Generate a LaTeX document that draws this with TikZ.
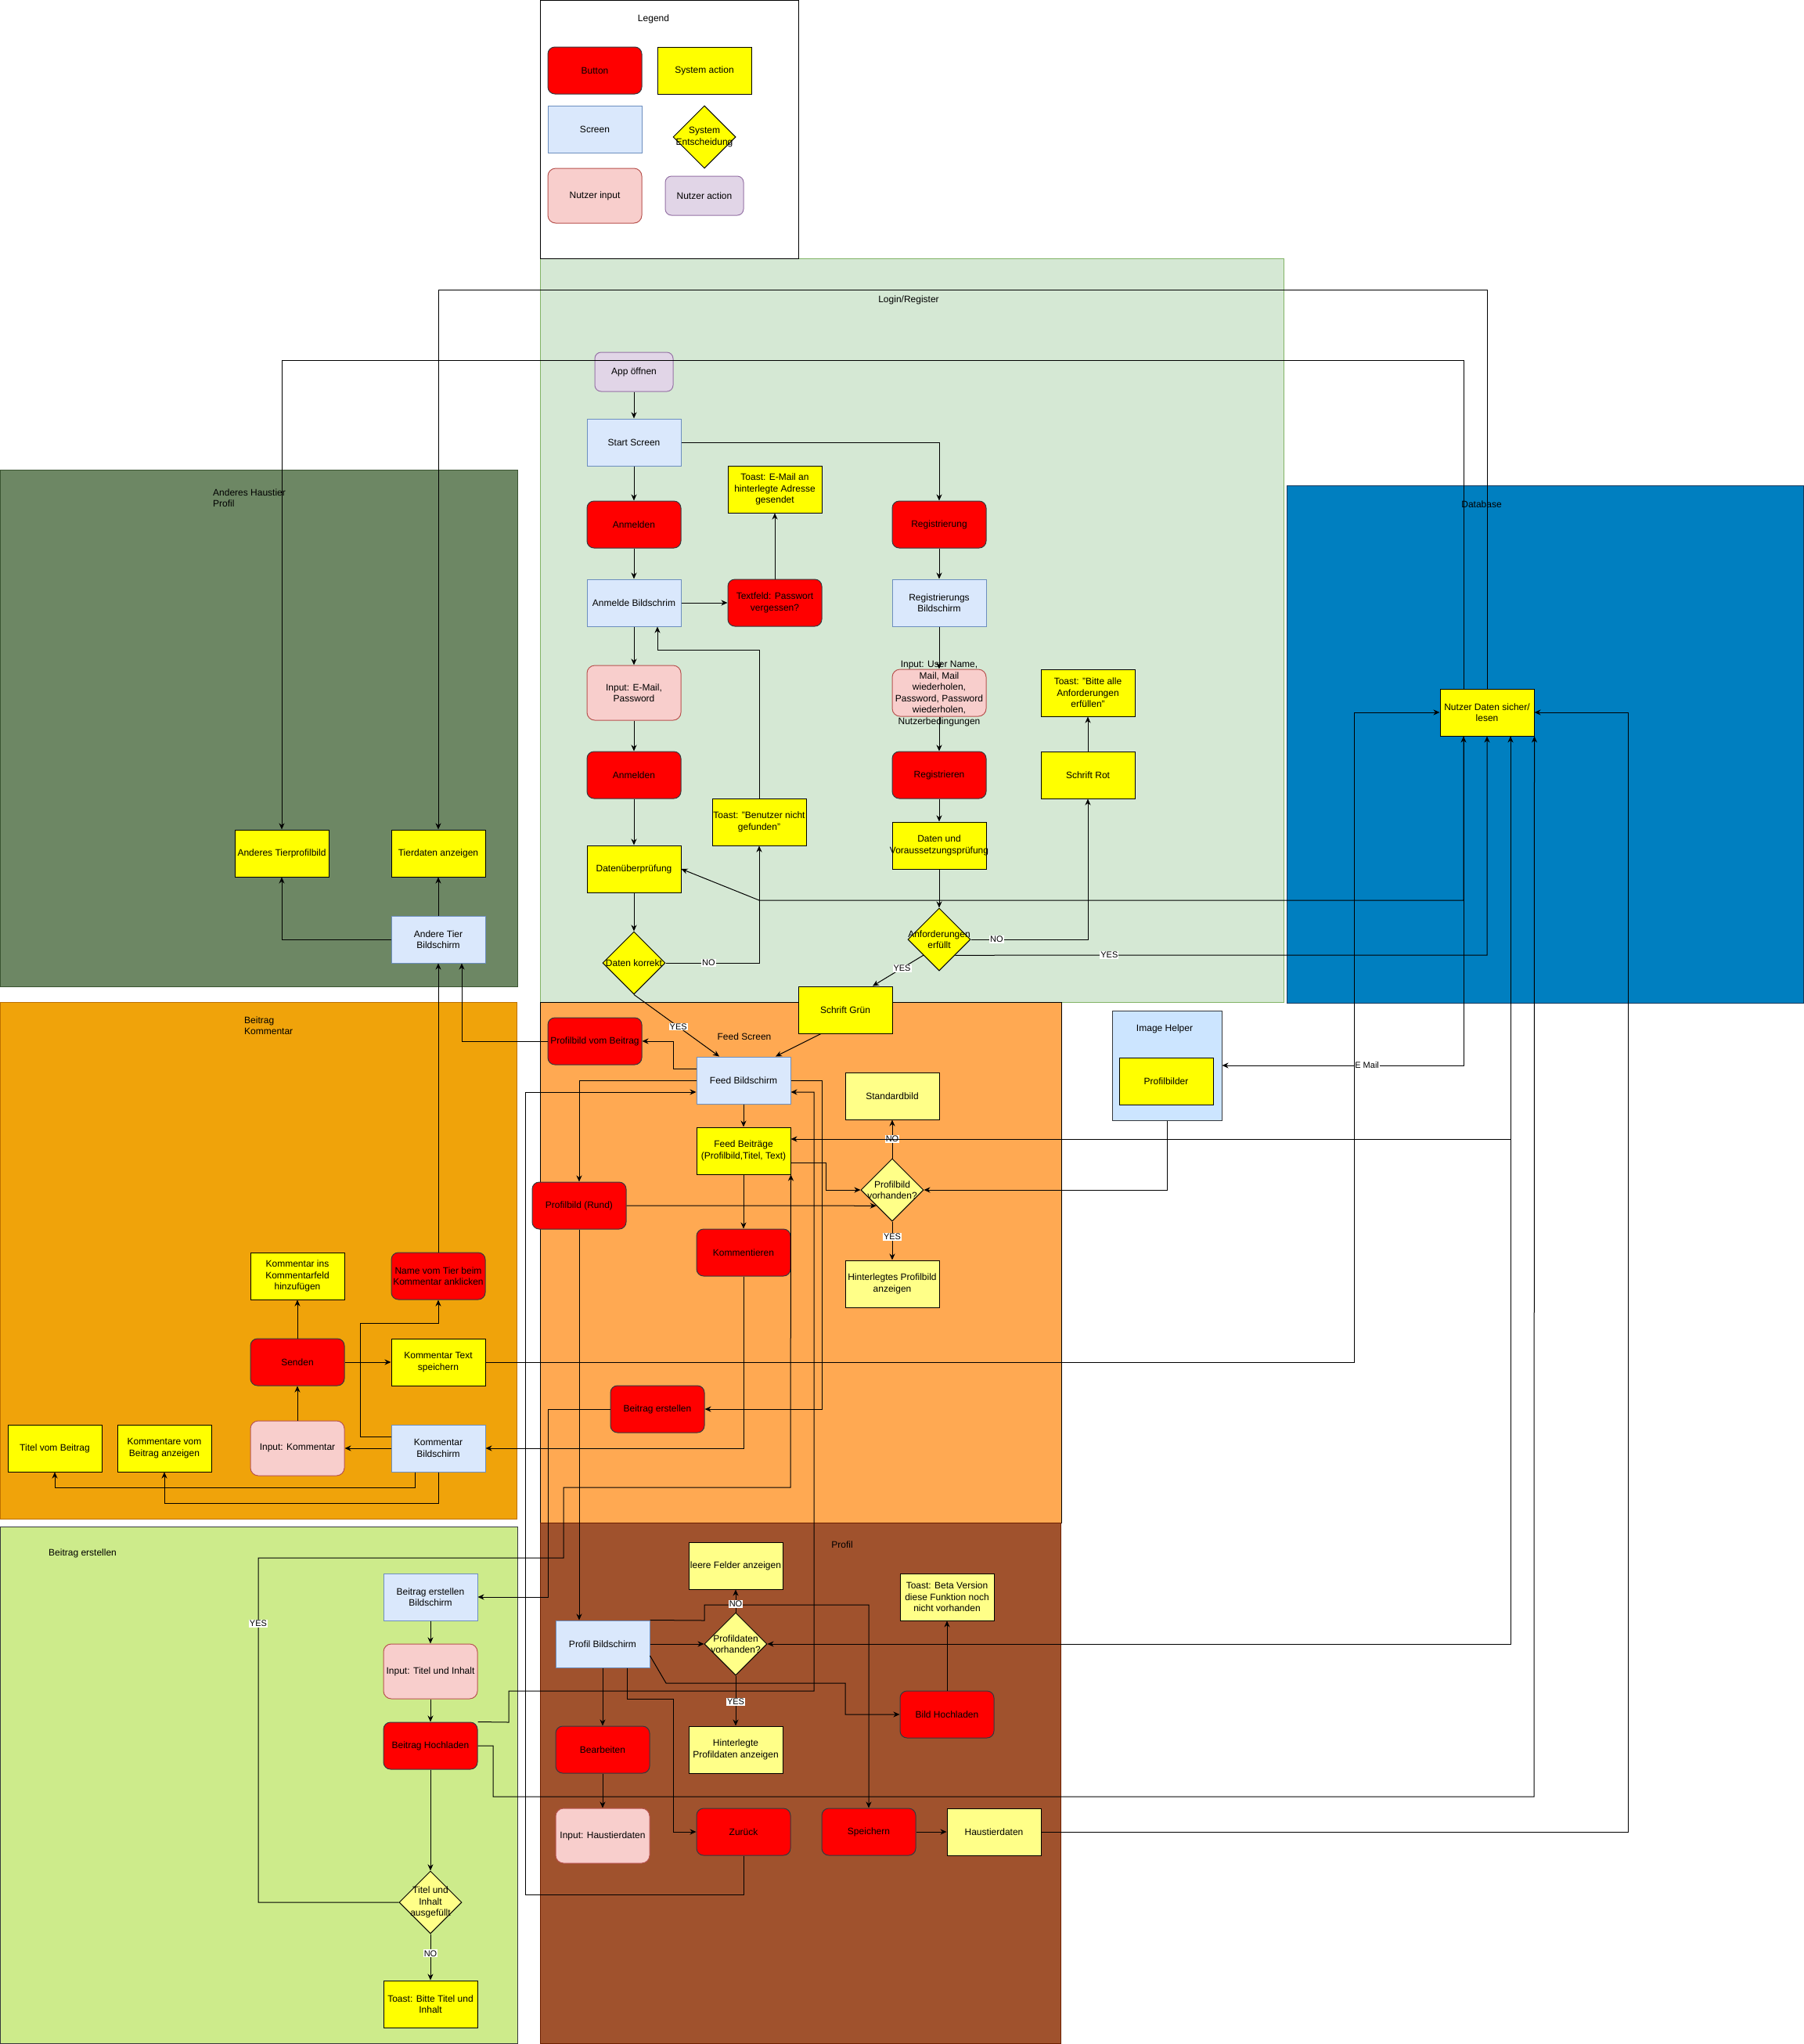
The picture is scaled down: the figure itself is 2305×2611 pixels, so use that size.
\documentclass[tikz,border=0pt]{standalone}
\usepackage{fontspec}
\setmainfont{Liberation Sans}
\usetikzlibrary{shapes.geometric,arrows.meta}
\definecolor{cRed}{HTML}{FF0000}
\definecolor{cBtnD}{HTML}{36393D}
\definecolor{cYel}{HTML}{FFFF00}
\definecolor{cLYel}{HTML}{FFFF88}
\definecolor{cScrF}{HTML}{DAE8FC}
\definecolor{cScrD}{HTML}{6C8EBF}
\definecolor{cInF}{HTML}{F8CECC}
\definecolor{cInD}{HTML}{B85450}
\definecolor{cActF}{HTML}{E1D5E7}
\definecolor{cActD}{HTML}{9673A6}
\definecolor{cLogF}{HTML}{D5E8D4}
\definecolor{cLogD}{HTML}{82B366}
\definecolor{cAndF}{HTML}{6D8764}
\definecolor{cAndD}{HTML}{3A5431}
\definecolor{cKomF}{HTML}{F0A30A}
\definecolor{cKomD}{HTML}{BD7000}
\definecolor{cFeedF}{HTML}{FFA952}
\definecolor{cProF}{HTML}{A0522D}
\definecolor{cProD}{HTML}{6D1F00}
\definecolor{cBeF}{HTML}{CDEB8B}
\definecolor{cBeD}{HTML}{36393D}
\definecolor{cDbF}{HTML}{007FC0}
\definecolor{cDbD}{HTML}{10375A}
\definecolor{cImgF}{HTML}{CCE5FF}
\definecolor{cImgD}{HTML}{36393D}
\tikzset{
 box/.style={draw, line width=1pt, align=center, inner sep=0pt, minimum width=120pt, minimum height=60pt, font=\fontsize{12}{14.5}\selectfont},
 btn/.style={box, fill=cRed, draw=cBtnD, rounded corners=9pt},
 sact/.style={box, fill=cYel, draw=black},
 lact/.style={box, fill=cLYel, draw=black},
 scr/.style={box, fill=cScrF, draw=cScrD},
 uin/.style={box, fill=cInF, draw=cInD, rounded corners=10pt, minimum height=70pt},
 uact/.style={box, fill=cActF, draw=cActD, rounded corners=8pt, minimum width=100pt, minimum height=50pt},
 dec/.style={diamond, draw=black, line width=1pt, fill=cYel, minimum width=80pt, minimum height=80pt, inner sep=0pt, aspect=1},
 ldec/.style={dec, fill=cLYel},
 txt/.style={align=center, inner sep=0pt, font=\fontsize{12}{14.5}\selectfont},
 conn/.style={line width=1pt, -{Stealth[length=8pt,width=7pt,inset=2.5pt]}},
 conntwo/.style={line width=1pt, {Stealth[length=8pt,width=7pt,inset=2.5pt]}-{Stealth[length=8pt,width=7pt,inset=2.5pt]}},
 lbl/.style={fill=white, inner sep=1pt, font=\fontsize{11}{13}\selectfont},
}
\begin{document}
\begin{tikzpicture}[x=1pt,y=-1pt]
\useasboundingbox (0,0) rectangle (2305,2611);
% containers
\path[draw=cLogD, fill=cLogF, line width=1pt] (690,330) rectangle (1640,1280);
\path[draw=black, fill=white, line width=1pt] (690,0.5) rectangle (1020,330);
\path[draw=cDbD, fill=cDbF, line width=1pt] (1644,620) rectangle (2304.5,1281);
\path[draw=cAndD, fill=cAndF, line width=1pt] (0.5,600) rectangle (661,1260);
\path[draw=cKomD, fill=cKomF, line width=1pt] (0.5,1280) rectangle (660,1940);
\path[draw=black, fill=cFeedF, line width=1pt] (690,1280) rectangle (1356,1945);
\path[draw=cProD, fill=cProF, line width=1pt] (690,1945) rectangle (1355,2610.5);
\path[draw=cBeD, fill=cBeF, line width=1pt] (0.5,1950) rectangle (661,2610.5);
\node[draw=cImgD, fill=cImgF, line width=1pt, minimum width=140pt, minimum height=140pt, inner sep=0pt] (imgHelper) at (1491,1361) {};

% titles
\node[txt] (legT) at (835,24) {Legend};
\node[txt] (logT) at (1161,383) {Login/Register};
\node[txt] (dbT) at (1893,644) {Database};
\node[txt, anchor=west, align=left] (andT) at (272,636) {Anderes Haustier\\Profil};
\node[txt, anchor=west, align=left] (komT) at (312,1310) {Beitrag\\Kommentar};
\node[txt] (feedT) at (951,1324) {Feed Screen};
\node[txt, anchor=west] (beT) at (62,1984) {Beitrag erstellen};
\node[txt] (proT) at (1076,1973) {Profil};
\node[txt] (imgT) at (1488,1314) {Image Helper};

% legend
\node[btn] (lgButton) at (760,90) {Button};
\node[sact] (lgSys) at (900,90) {System action};
\node[scr] (lgScreen) at (760,165) {Screen};
\node[dec] (lgDec) at (900,175) {};
\node[txt] (lgDecT) at (900,175) {System\\Entscheidung};
\node[uin] (lgInput) at (760,250) {Nutzer input};
\node[uact] (lgAction) at (900,250) {Nutzer action};

% login / register
\node[uact] (app) at (810,475) {App öffnen};
\node[scr] (start) at (810,565) {Start Screen};
\node[btn] (anm1) at (810,670) {Anmelden};
\node[sact] (toastMail) at (990,625) {Toast: E-Mail an\\hinterlegte Adresse\\gesendet};
\node[btn] (reg) at (1200,670) {Registrierung};
\node[scr] (anmBS) at (810,770) {Anmelde Bildschrim};
\node[btn] (pwv) at (990,770) {Textfeld: Passwort\\vergessen?};
\node[scr] (regBS) at (1200,770) {Registrierungs\\Bildschirm};
\node[uin] (inMail) at (810,885) {Input: E-Mail,\\Password};
\node[uin, minimum height=60pt] (inUser) at (1200,885) {};
\node[txt] (inUserT) at (1200,886) {Input: User Name,\\Mail, Mail\\wiederholen,\\Password, Password\\wiederholen,\\Nutzerbedingungen};
\node[sact] (toastBitte) at (1390,885) {Toast: "Bitte alle\\Anforderungen\\erfüllen"};
\node[btn] (anm2) at (810,990) {Anmelden};
\node[btn] (regBtn) at (1200,990) {Registrieren};
\node[sact] (schriftRot) at (1390,990) {Schrift Rot};
\node[sact] (toastBen) at (970,1050) {Toast: "Benutzer nicht\\gefunden"};
\node[sact] (datenV) at (1200,1080) {};
\node[txt] (datenVT) at (1200,1080) {Daten und\\Voraussetzungsprüfung};
\node[sact] (datenUe) at (810,1110) {Datenüberprüfung};
\node[dec] (anf) at (1200,1200) {};
\node[txt] (anfT) at (1200,1200) {Anforderungen\\erfüllt};
\node[dec] (korrekt) at (810,1230) {};
\node[txt] (korrektT) at (810,1230) {Daten korrekt};
\node[sact] (gruen) at (1080,1290) {Schrift Grün};

% database
\node[sact] (nutzer) at (1900,910) {Nutzer Daten sicher/\\lesen};

% anderes haustier
\node[sact] (tierbild) at (360,1090) {Anderes Tierprofilbild};
\node[sact] (tierdaten) at (560,1090) {Tierdaten anzeigen};
\node[scr] (andere) at (560,1200) {Andere Tier\\Bildschirm};

% feed
\node[btn] (pbBeitrag) at (760,1330) {Profilbild vom Beitrag};
\node[scr] (feedBS) at (950,1380) {Feed Bildschirm};
\node[lact] (standard) at (1140,1400) {Standardbild};
\node[sact] (feedB) at (950,1470) {Feed Beiträge\\(Profilbild,Titel, Text)};
\node[ldec] (pbv) at (1140,1520) {};
\node[txt] (pbvT) at (1140,1520) {Profilbild\\vorhanden?};
\node[btn] (pbRund) at (740,1540) {Profilbild (Rund)};
\node[btn] (komm) at (950,1600) {Kommentieren};
\node[lact] (hinterlegtPB) at (1140,1640) {Hinterlegtes Profilbild\\anzeigen};
\node[btn] (beitragBtn) at (840,1800) {Beitrag erstellen};

% image helper
\node[sact] (profilbilder) at (1490,1381) {Profilbilder};

% kommentar
\node[sact] (kommIns) at (380,1630) {Kommentar ins\\Kommentarfeld\\hinzufügen};
\node[btn] (nameTier) at (560,1630) {Name vom Tier beim\\Kommentar anklicken};
\node[btn] (senden) at (380,1740) {Senden};
\node[sact] (kommText) at (560,1740) {Kommentar Text\\speichern};
\node[sact] (titelBeitrag) at (70,1850) {Titel vom Beitrag};
\node[sact] (kommVom) at (210,1850) {Kommentare vom\\Beitrag anzeigen};
\node[uin] (inKomm) at (380,1850) {Input: Kommentar};
\node[scr] (kommBS) at (560,1850) {Kommentar\\Bildschirm};

% beitrag erstellen
\node[scr] (beBS) at (550,2040) {Beitrag erstellen\\Bildschirm};
\node[uin] (inTitel) at (550,2135) {Input: Titel und Inhalt};
\node[btn] (hochladen) at (550,2230) {Beitrag Hochladen};
\node[ldec] (tiDec) at (550,2430) {};
\node[txt] (tiDecT) at (550,2430) {Titel und\\Inhalt\\ausgefüllt};
\node[sact] (toastTitel) at (550,2560) {Toast: Bitte Titel und\\Inhalt};

% profil
\node[lact] (leere) at (940,2000) {leere Felder anzeigen};
\node[lact] (toastBeta) at (1210,2040) {Toast: Beta Version\\diese Funktion noch\\nicht vorhanden};
\node[scr] (profilBS) at (770,2100) {Profil Bildschirm};
\node[ldec] (pdv) at (940,2100) {};
\node[txt] (pdvT) at (940,2100) {Profildaten\\vorhanden?};
\node[btn] (bildHoch) at (1210,2190) {Bild Hochladen};
\node[btn] (bearbeiten) at (770,2235) {Bearbeiten};
\node[lact] (hinterlegtPD) at (940,2235) {Hinterlegte\\Profildaten anzeigen};
\node[uin] (inHaus) at (770,2345) {Input: Haustierdaten};
\node[btn] (zurueck) at (950,2340) {Zurück};
\node[btn] (speichern) at (1110,2340) {Speichern};
\node[lact] (haustier) at (1270,2340) {Haustierdaten};

% ---------- connectors ----------
\draw[conn] (app) -- (start);
\draw[conn] (start) -- (anm1);
\draw[conn] (start.east) -| (reg.north);
\draw[conn] (anm1) -- (anmBS);
\draw[conn] (anmBS.east) -- (pwv.west);
\draw[conn] (pwv.north) -- (toastMail.south);
\draw[conn] (reg) -- (regBS);
\draw[conn] (anmBS) -- (inMail);
\draw[conn] (inMail) -- (anm2);
\draw[conn] (anm2) -- (datenUe);
\draw[conn] (datenUe.south) -- (korrekt.north);
\draw[conn] (korrekt.east) -| node[lbl,pos=0.23]{NO} (toastBen.south);
\draw[conn] (toastBen.north) -- (970,830) -| ([xshift=30pt]anmBS.south);
\draw[conn] (korrekt.south) -- node[lbl,pos=0.52]{YES} ([xshift=-31pt]feedBS.north);
\draw[conn] (regBS.south) -- (inUser.north);
\draw[conn] (inUser.south) -- (regBtn.north);
\draw[conn] (regBtn) -- (datenV);
\draw[conn] (datenV.south) -- (anf.north);
\draw[conn] (anf.east) -| node[lbl,pos=0.11]{NO} (schriftRot.south);
\draw[conn] (schriftRot) -- (toastBitte);
\draw[conn] (anf.south east) -- node[lbl,pos=0.29]{YES} (1900,1220) -- (nutzer.south);
\draw[conn] (anf.south west) -- node[lbl,pos=0.42]{YES} ([xshift=35pt]gruen.north);
\draw[conn] ([xshift=-31pt]gruen.south) -- ([xshift=41pt]feedBS.north);
\draw[conntwo] ([xshift=-30pt]nutzer.south) -- (1870,1150) -- (970,1150) -- (datenUe.east);
\draw[conn] ([xshift=-30pt]nutzer.south) |- node[lbl,pos=0.70]{E Mail} (imgHelper.east);
\draw[conn] (nutzer.north) -- (1900,370) -| (tierdaten.north);
\draw[conn] ([xshift=-30pt]nutzer.north) -- (1870,460) -| (tierbild.north);
\draw[conn] (andere) -- (tierdaten);
\draw[conn] (andere.west) -| (tierbild.south);
\draw[conn] (nameTier.north) -- (andere.south);
\draw[conn] (pbBeitrag.west) -| ([xshift=30pt]andere.south);
\draw[conn] ([yshift=15pt]feedBS.west) -- (860,1365) |- (pbBeitrag.east);
\draw[conn] (feedBS.west) -| (pbRund.north);
\draw[conn] (zurueck.south) -- (950,2420) -- (671,2420) |- ([yshift=-15pt]feedBS.west);
\draw[conn] (feedBS.east) -- (1050,1380) |- (beitragBtn.east);
\draw[conn] (hochladen.north east) -- (650,2200) -- (650,2160) -- (1040,2160) |- ([yshift=-15pt]feedBS.east);
\draw[conn] (feedBS) -- (feedB);
\draw[conn] (feedB) -- (komm);
\draw[conn] ([yshift=-15pt]feedB.east) -- (1055,1485) |- (pbv.west);
\draw[conn] (pbRund.east) -- (pbv.south west);
\draw[conn] (pbv.north) -- node[lbl]{NO} (standard.south);
\draw[conn] (pbv.south) -- node[lbl,pos=0.4]{YES} (hinterlegtPB.north);
\draw[conn] (imgHelper.south) |- (pbv.east);
\draw[conntwo] ([xshift=30pt]nutzer.south) -- (1930,1455) -- ([yshift=15pt]feedB.east);
\draw[conn] ([xshift=30pt]nutzer.south) |- (pdv.east);
\draw[conn] (komm.south) |- (kommBS.east);
\draw[conn] (beitragBtn.west) -- (700,1800) |- (beBS.east);
\draw[conn] (pbRund.south) -- ([xshift=-30pt]profilBS.north);
\draw[conn] (kommBS.west) -- (inKomm.east);
\draw[conn] (inKomm.north) -- (senden.south);
\draw[conn] (senden.north) -- (kommIns.south);
\draw[conn] (senden.east) -- (kommText.west);
\draw[conn] ([yshift=15pt]kommBS.west) -- (460,1835) -- (460,1690) -| (nameTier.south);
\draw[conn] ([xshift=-30pt]kommBS.south) -- (530,1900) -| (titelBeitrag.south);
\draw[conn] (kommBS.south) -- (560,1920) -| (kommVom.south);
\draw[conn] (kommText.east) -- (1730,1740) |- (nutzer.west);
\draw[conn] (beBS) -- (inTitel);
\draw[conn] (inTitel) -- (hochladen);
\draw[conn] (hochladen.south) -- (tiDec.north);
\draw[conn] (tiDec.south) -- node[lbl,pos=0.42]{NO} (toastTitel.north);
\draw[conn] (tiDec.west) -- (330,2430) -- node[lbl,pos=0.81]{YES} (330,1990) -- (720,1990) -- (720,1900) -- (1010,1900) -- (feedB.south east);
\draw[conn] (hochladen.east) -- (630,2230) -- (630,2295) -- (1960,2295) -- (nutzer.south east);
\draw[conn] (profilBS.east) -- (pdv.west);
\draw[conn] (profilBS.north east) -- (900,2070) -- (900,2050) -- (1110,2050) -- (speichern.north);
\draw[conn] (pdv.north) -- node[lbl,pos=0.37]{NO} (leere.south);
\draw[conn] (pdv.south) -- node[lbl,pos=0.52]{YES} (hinterlegtPD.north);
\draw[conn] ([yshift=-15pt]profilBS.east) -- (851,2150) -- (1080,2150) |- (bildHoch.west);
\draw[conn] (bildHoch.north) -- (toastBeta.south);
\draw[conn] (profilBS) -- (bearbeiten);
\draw[conn] (bearbeiten) -- (inHaus);
\draw[conn] ([xshift=31pt]profilBS.south) -- (801,2170) -- (860,2170) |- (zurueck.west);
\draw[conn] (speichern) -- (haustier);
\draw[conn] (haustier.east) -- (2080,2340) |- (nutzer.east);
\end{tikzpicture}
\end{document}
